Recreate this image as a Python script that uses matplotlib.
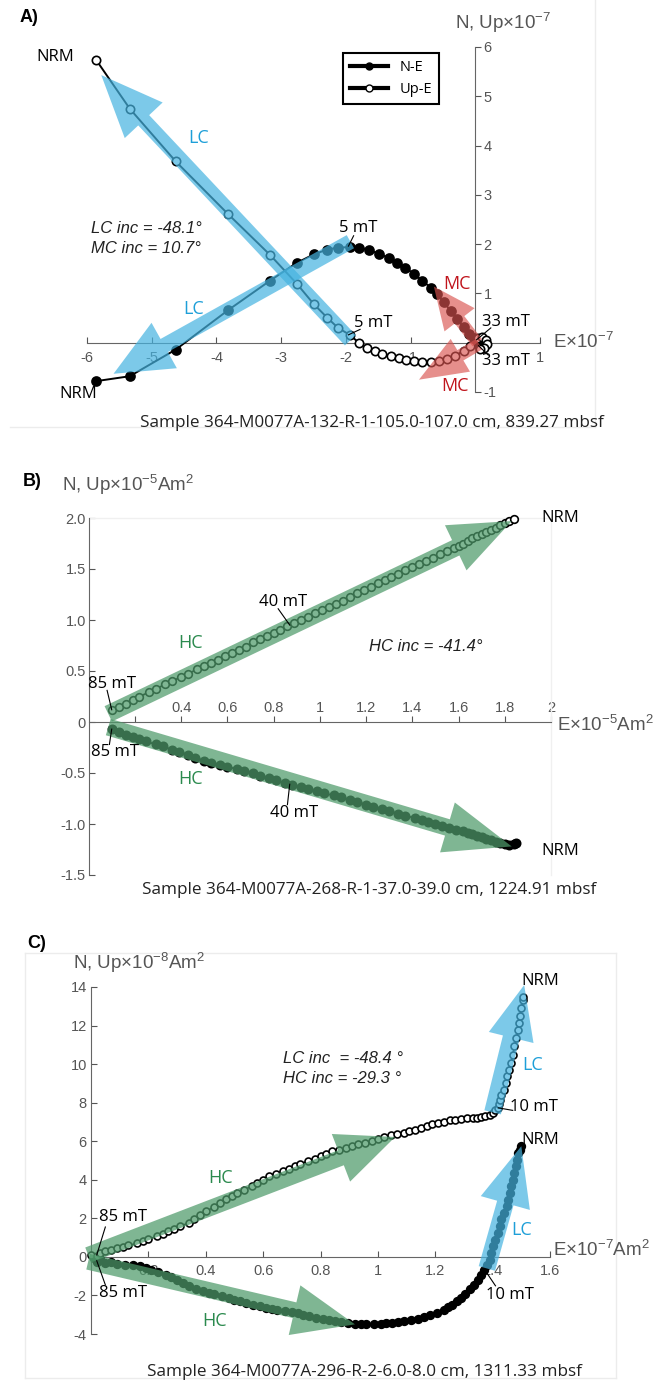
import numpy as np
import matplotlib
matplotlib.use("Agg")
from matplotlib import pyplot as plt
from matplotlib.patches import FancyArrowPatch, ArrowStyle
from matplotlib.lines import Line2D

plt.rcParams['font.family'] = ['Liberation Sans', 'DejaVu Sans']
plt.rcParams['mathtext.default'] = 'regular'
plt.rcParams['axes.unicode_minus'] = False

W, H = 662, 1381
ANN = ['Open Sans', 'DejaVu Sans']

# ---------------- panel A data (x1e-7) ----------------
a_ne_x = [-5.86, -5.34, -4.63, -3.82, -3.17, -2.76, -2.50, -2.29, -2.12, -1.94,
          -1.80, -1.65, -1.49, -1.34, -1.21, -1.08, -0.95, -0.82, -0.69, -0.59,
          -0.49, -0.38, -0.28, -0.18, -0.10, -0.02, 0.05, 0.12, 0.15, 0.10, 0.05]
a_ne_y = [-0.78, -0.68, -0.14, 0.66, 1.26, 1.62, 1.79, 1.89, 1.93, 1.94,
          1.93, 1.88, 1.81, 1.72, 1.62, 1.52, 1.40, 1.26, 1.12, 0.99,
          0.82, 0.65, 0.48, 0.31, 0.18, 0.09, 0.05, 0.02, -0.05, -0.10, -0.04]
a_up_x = [-5.86, -5.34, -4.63, -3.82, -3.17, -2.76, -2.50, -2.29, -2.12, -1.94,
          -1.80, -1.67, -1.55, -1.44, -1.31, -1.18, -1.07, -0.95, -0.82, -0.69,
          -0.56, -0.43, -0.31, -0.18, -0.08, 0.04, 0.10, 0.16, 0.18, 0.14, 0.07]
a_up_y = [5.74, 4.75, 3.68, 2.61, 1.78, 1.20, 0.79, 0.51, 0.30, 0.16,
          0.00, -0.10, -0.16, -0.22, -0.27, -0.31, -0.35, -0.38, -0.39, -0.40,
          -0.38, -0.33, -0.27, -0.16, -0.06, 0.10, 0.12, 0.06, -0.02, -0.10, -0.12]

# ---------------- panel B data (x1e-5 Am2) ----------------
b_up_x = [0.10, 0.13, 0.16, 0.19, 0.22, 0.26, 0.29, 0.33, 0.36, 0.40, 0.43, 0.47,
          0.50, 0.53, 0.56, 0.59, 0.62, 0.65, 0.68, 0.71, 0.74, 0.77, 0.80, 0.83,
          0.86, 0.89, 0.92, 0.95, 0.98, 1.01, 1.04, 1.07, 1.10, 1.13, 1.16, 1.19,
          1.22, 1.25, 1.28, 1.31, 1.34, 1.37, 1.40, 1.43, 1.46, 1.49, 1.52, 1.55,
          1.58, 1.60, 1.62, 1.64, 1.66, 1.68, 1.70, 1.72, 1.74, 1.76, 1.78, 1.80,
          1.82, 1.84]
b_up_y = [0.12, 0.15, 0.18, 0.22, 0.25, 0.29, 0.32, 0.37, 0.40, 0.44, 0.47, 0.52,
          0.55, 0.58, 0.61, 0.65, 0.68, 0.71, 0.74, 0.78, 0.81, 0.84, 0.87, 0.90,
          0.94, 0.97, 1.00, 1.03, 1.07, 1.10, 1.13, 1.16, 1.19, 1.23, 1.26, 1.29,
          1.32, 1.36, 1.39, 1.42, 1.45, 1.49, 1.52, 1.55, 1.58, 1.61, 1.65, 1.68,
          1.71, 1.73, 1.75, 1.77, 1.80, 1.82, 1.84, 1.86, 1.88, 1.90, 1.93, 1.95,
          1.97, 1.99]
b_ne_x = [0.10, 0.13, 0.16, 0.19, 0.22, 0.25, 0.29, 0.32, 0.36, 0.39, 0.43, 0.46,
          0.50, 0.53, 0.57, 0.60, 0.64, 0.67, 0.71, 0.74, 0.78, 0.81, 0.85, 0.88,
          0.92, 0.95, 0.99, 1.02, 1.06, 1.09, 1.13, 1.16, 1.20, 1.23, 1.27, 1.30,
          1.34, 1.37, 1.41, 1.44, 1.47, 1.50, 1.53, 1.56, 1.59, 1.62, 1.64, 1.66,
          1.68, 1.70, 1.72, 1.74, 1.76, 1.78, 1.80, 1.82, 1.84, 1.85]
b_ne_y = [-0.07, -0.10, -0.13, -0.15, -0.17, -0.19, -0.22, -0.24, -0.27, -0.29,
          -0.32, -0.35, -0.38, -0.40, -0.42, -0.44, -0.46, -0.48, -0.50, -0.53,
          -0.55, -0.57, -0.60, -0.62, -0.64, -0.66, -0.68, -0.70, -0.72, -0.74,
          -0.76, -0.78, -0.81, -0.83, -0.85, -0.87, -0.90, -0.92, -0.94, -0.96,
          -0.98, -1.00, -1.02, -1.04, -1.06, -1.07, -1.09, -1.10, -1.12, -1.13,
          -1.15, -1.16, -1.18, -1.19, -1.20, -1.21, -1.20, -1.19]

# ---------------- panel C data (x1e-7 / x1e-8 Am2) ----------------
c_up_x = [0.00, 0.02, 0.03, 0.05, 0.07, 0.09, 0.11, 0.13, 0.16, 0.18, 0.20, 0.23,
          0.25, 0.27, 0.29, 0.31, 0.34, 0.36, 0.38, 0.40, 0.43, 0.45, 0.47, 0.49,
          0.51, 0.535, 0.56, 0.58, 0.60, 0.62, 0.645, 0.67, 0.69, 0.71, 0.73, 0.755,
          0.78, 0.80, 0.82, 0.84, 0.865, 0.89, 0.91, 0.93, 0.955, 0.98, 1.00, 1.02,
          1.045, 1.065, 1.09, 1.11, 1.13, 1.15, 1.17, 1.19, 1.21, 1.23, 1.25, 1.27,
          1.29, 1.31, 1.33, 1.345, 1.36, 1.375, 1.39, 1.40, 1.41, 1.42, 1.423, 1.425,
          1.43, 1.44, 1.445, 1.45, 1.458, 1.465, 1.47, 1.476, 1.483, 1.49, 1.493,
          1.496, 1.50, 1.506, 1.507]
c_up_y = [0.10, 0.05, 0.18, 0.28, 0.36, 0.44, 0.52, 0.60, 0.70, 0.81, 0.92, 1.07,
          1.20, 1.33, 1.46, 1.59, 1.76, 1.94, 2.15, 2.37, 2.58, 2.80, 2.98, 3.15,
          3.32, 3.49, 3.66, 3.84, 4.01, 4.18, 4.31, 4.44, 4.57, 4.70, 4.83, 4.96,
          5.09, 5.22, 5.35, 5.48, 5.57, 5.65, 5.74, 5.83, 5.92, 6.00, 6.11, 6.22,
          6.30, 6.38, 6.43, 6.52, 6.60, 6.69, 6.78, 6.87, 6.95, 7.02, 7.08, 7.12,
          7.15, 7.18, 7.21, 7.23, 7.26, 7.31, 7.38, 7.47, 7.60, 7.73, 7.95, 8.16,
          8.42, 8.68, 9.02, 9.37, 9.71, 10.06, 10.49, 10.92, 11.35, 11.79, 12.13,
          12.48, 12.90, 13.34, 13.48]
c_ne_x = [0.01, 0.02, 0.03, 0.05, 0.07, 0.09, 0.12, 0.145, 0.17, 0.19, 0.21, 0.235,
          0.26, 0.28, 0.30, 0.32, 0.34, 0.365, 0.39, 0.41, 0.43, 0.455, 0.48, 0.50,
          0.52, 0.54, 0.565, 0.59, 0.61, 0.63, 0.65, 0.675, 0.70, 0.72, 0.74, 0.76,
          0.785, 0.81, 0.83, 0.85, 0.87, 0.895, 0.92, 0.94, 0.96, 0.985, 1.01, 1.03,
          1.05, 1.07, 1.09, 1.115, 1.14, 1.16, 1.18, 1.205, 1.23, 1.245, 1.26, 1.275,
          1.29, 1.305, 1.32, 1.335, 1.35, 1.36, 1.37, 1.38, 1.39, 1.395, 1.40, 1.41,
          1.42, 1.425, 1.43, 1.44, 1.45, 1.455, 1.46, 1.465, 1.47, 1.475, 1.48,
          1.485, 1.49, 1.495, 1.50]
c_ne_y = [-0.05, -0.25, -0.10, -0.30, -0.28, -0.35, -0.40, -0.42, -0.48, -0.56,
          -0.66, -0.79, -0.92, -1.05, -1.18, -1.35, -1.52, -1.65, -1.78, -1.87,
          -1.95, -2.04, -2.13, -2.22, -2.30, -2.38, -2.47, -2.56, -2.64, -2.68,
          -2.73, -2.80, -2.87, -2.93, -2.99, -3.08, -3.16, -3.22, -3.28, -3.34,
          -3.39, -3.43, -3.46, -3.47, -3.46, -3.47, -3.46, -3.44, -3.42, -3.38,
          -3.34, -3.28, -3.21, -3.13, -3.04, -2.89, -2.73, -2.60, -2.47, -2.30,
          -2.13, -1.91, -1.69, -1.44, -1.18, -0.92, -0.66, -0.40, -0.14, 0.20,
          0.55, 0.90, 1.24, 1.59, 1.94, 2.28, 2.63, 2.97, 3.32, 3.67, 4.01, 4.36,
          4.70, 5.05, 5.39, 5.57, 5.74]

BLUE, BLUE_T = '#45b3e0', '#1e9fd8'
RED, RED_T = '#d9534f', '#c0141c'
GREEN, GREEN_T = '#4e9a6a', '#2b8a4e'
GRAY = '#555555'


def axes_px(left, top, right, bottom):
    return fig.add_axes([left / W, 1 - bottom / H, (right - left) / W, (bottom - top) / H])


def band(ax, p0, p1, color, alpha, tail, head_w, head_l):
    s = 72 / 100
    style = ArrowStyle.Simple(head_length=head_l * s, head_width=head_w * s, tail_width=tail * s)
    arr = FancyArrowPatch(p0, p1, arrowstyle=style, mutation_scale=1, color=color, alpha=alpha,
                          lw=0, shrinkA=0, shrinkB=0, clip_on=False, zorder=6)
    ax.add_patch(arr)


def series(ax, x, y, filled, ms, lw):
    ax.plot(x, y, '-', color='k', lw=lw, marker='o', ms=ms, mfc='k' if filled else 'w',
            mec='k', mew=1.2, clip_on=False, zorder=4)


def leader(ax, p0, p1):
    ax.plot([p0[0], p1[0]], [p0[1], p1[1]], color='k', lw=0.8, clip_on=False, zorder=7)


def note(ax, x, y, s, color='k', size=12, ha='left', va='center', **kw):
    ax.text(x, y, s, color=color, fontsize=size, ha=ha, va=va, family=ANN, zorder=8, **kw)


def fig_line(x0, y0, x1, y1):
    fig.add_artist(Line2D([x0 / W, x1 / W], [1 - y0 / H, 1 - y1 / H], color='#ececec', lw=1))


fig = plt.figure(figsize=(W / 100, H / 100), dpi=100)

# ===================== A =====================
ax = axes_px(87, 47, 540, 392)
ax.set_xlim(-6, 1)
ax.set_ylim(-1, 6)
for sp in ['top', 'left']:
    ax.spines[sp].set_visible(False)
ax.spines['bottom'].set_position(('data', 0))
ax.spines['right'].set_position(('data', 0))
for sp in ['bottom', 'right']:
    ax.spines[sp].set_color('#666666')
ax.yaxis.tick_right()
ax.set_xticks([-6, -5, -4, -3, -2, -1, 1])
ax.set_yticks([-1, 1, 2, 3, 4, 5, 6])
ax.tick_params(axis='x', direction='in', length=4, pad=6, colors=GRAY, labelsize=10.5)
ax.tick_params(axis='y', direction='out', length=4, pad=2, colors=GRAY, labelsize=10.5)
ax.patch.set_alpha(0)

series(ax, a_ne_x, a_ne_y, True, 6.5, 1.4)
series(ax, a_up_x, a_up_y, False, 6, 1.4)
band(ax, (-1.93, 0.05), (-5.78, 5.43), BLUE, 0.7, 15, 52, 62)
band(ax, (-1.93, 2.05), (-5.59, -0.63), BLUE, 0.7, 15, 52, 58)
band(ax, (0.03, 0.0), (-0.64, 1.14), RED, 0.65, 12, 38, 42)
band(ax, (0.06, -0.03), (-0.87, -0.75), RED, 0.65, 12, 38, 48)

note(ax, -6.2, 5.8, 'NRM', ha='right')
note(ax, -6.14, -1.04, 'NRM', ha='center')
note(ax, -4.28, 4.15, 'LC', BLUE_T, 13, ha='center')
note(ax, -4.36, 0.69, 'LC', BLUE_T, 13, ha='center')
note(ax, -0.28, 1.2, 'MC', RED_T, 13, ha='center')
note(ax, -0.31, -0.87, 'MC', RED_T, 13, ha='center')
note(ax, -1.81, 2.32, '5 mT', ha='center')
leader(ax, (-1.96, 1.96), (-1.88, 2.17))
note(ax, -1.57, 0.41, '5 mT', ha='center')
leader(ax, (-1.96, 0.16), (-1.78, 0.27))
note(ax, 0.47, 0.43, '33 mT', ha='center')
leader(ax, (0.02, 0.06), (0.24, 0.3))
note(ax, 0.47, -0.37, '33 mT', ha='center')
leader(ax, (0.05, -0.06), (0.2, -0.25))
ax.text(-5.94, 2.31, 'LC inc = -48.1°', style='italic', fontsize=12, color='#222222', va='center')
ax.text(-5.94, 1.91, 'MC inc = 10.7°', style='italic', fontsize=12, color='#222222', va='center')

leg = ax.legend([Line2D([], [], color='k', lw=3, marker='o', ms=5, mfc='k', mec='k'),
                 Line2D([], [], color='k', lw=3, marker='o', ms=5, mfc='w', mec='k')],
                ['N-E', 'Up-E'], loc='upper left', bbox_to_anchor=(336 / W, 1 - 46 / H),
                bbox_transform=fig.transFigure, fancybox=False, edgecolor='k', framealpha=1,
                handlelength=2.6, borderpad=0.45, labelspacing=0.5,
                prop={'family': ANN, 'size': 10.5})
leg.get_frame().set_linewidth(1.5)

fig.text(503 / W, 1 - 23 / H, 'N, Up×10$^{-7}$', ha='center', va='center', fontsize=13.5, color=GRAY)
fig.text(553 / W, 1 - 342 / H, 'E×10$^{-7}$', ha='left', va='center', fontsize=13.5, color=GRAY)
fig.text(20 / W, 1 - 18 / H, 'A)', ha='left', va='center', fontsize=13, fontweight='bold')
fig.text(372 / W, 1 - 423 / H, 'Sample 364-M0077A-132-R-1-105.0-107.0 cm, 839.27 mbsf',
         ha='center', va='center', fontsize=12.3, family=ANN, color='#222222')
fig_line(595, 0, 595, 427)
fig_line(10, 427, 595, 427)

# ===================== B =====================
ax = axes_px(88.6, 518, 551, 875)
ax.set_xlim(0, 2)
ax.set_ylim(-1.5, 2.0)
ax.spines['bottom'].set_visible(False)
ax.spines['right'].set_visible(False)
ax.spines['top'].set_position(('data', 0))
for sp in ['top', 'left']:
    ax.spines[sp].set_color('#666666')
ax.xaxis.tick_top()
ax.set_xticks([0.2, 0.4, 0.6, 0.8, 1.0, 1.2, 1.4, 1.6, 1.8, 2.0])
ax.set_xticklabels(['', '0.4', '0.6', '0.8', '1', '1.2', '1.4', '1.6', '1.8', '2'])
ax.set_yticks([-1.5, -1.0, -0.5, 0, 0.5, 1.0, 1.5, 2.0])
ax.set_yticklabels(['-1.5', '-1.0', '-0.5', '0', '0.5', '1.0', '1.5', '2.0'])
ax.tick_params(axis='x', direction='out', length=4, pad=1, colors=GRAY, labelsize=10.5)
ax.tick_params(axis='y', direction='in', length=4, pad=2, colors=GRAY, labelsize=10.5)
ax.plot([0, 1, 1], [1, 1, 0], transform=ax.transAxes, color='#f0f0f0', lw=1, clip_on=False)

series(ax, b_ne_x, b_ne_y, True, 6, 1.3)
series(ax, b_up_x, b_up_y, False, 5.5, 1.3)
band(ax, (0.085, 0.08), (1.83, 1.97), GREEN, 0.72, 17, 50, 62)
band(ax, (0.085, -0.05), (1.83, -1.22), GREEN, 0.72, 17, 52, 67)

note(ax, 1.96, 2.0, 'NRM')
note(ax, 1.96, -1.26, 'NRM')
note(ax, 0.44, 0.77, 'HC', GREEN_T, 13, ha='center')
note(ax, 0.44, -0.56, 'HC', GREEN_T, 13, ha='center')
note(ax, 0.10, 0.37, '85 mT', ha='center')
leader(ax, (0.10, 0.12), (0.08, 0.31))
note(ax, 0.115, -0.29, '85 mT', ha='center')
leader(ax, (0.10, -0.07), (0.09, -0.22))
note(ax, 0.84, 1.18, '40 mT', ha='center')
leader(ax, (0.87, 0.95), (0.82, 1.11))
note(ax, 0.89, -0.89, '40 mT', ha='center')
leader(ax, (0.87, -0.61), (0.86, -0.81))
ax.text(1.46, 0.74, 'HC inc = -41.4°', style='italic', fontsize=12, color='#222222',
        ha='center', va='center')

fig.text(62 / W, 1 - 485 / H, 'N, Up×10$^{-5}$Am$^{2}$', ha='left', va='center', fontsize=13.5, color=GRAY)
fig.text(557 / W, 1 - 725 / H, 'E×10$^{-5}$Am$^{2}$', ha='left', va='center', fontsize=13.5, color=GRAY)
fig.text(23 / W, 1 - 482 / H, 'B)', ha='left', va='center', fontsize=13, fontweight='bold')
fig.text(369 / W, 1 - 890 / H, 'Sample 364-M0077A-268-R-1-37.0-39.0 cm, 1224.91 mbsf',
         ha='center', va='center', fontsize=12.3, family=ANN, color='#222222')

# ===================== C =====================
ax = axes_px(91, 987, 550, 1334)
ax.set_xlim(0, 1.6)
ax.set_ylim(-4, 14)
ax.spines['top'].set_visible(False)
ax.spines['right'].set_visible(False)
ax.spines['bottom'].set_position(('data', 0))
for sp in ['bottom', 'left']:
    ax.spines[sp].set_color('#666666')
ax.set_xticks([0.2, 0.4, 0.6, 0.8, 1.0, 1.2, 1.4, 1.6])
ax.set_xticklabels(['0.2', '0.4', '0.6', '0.8', '1', '1.2', '1.4', '1.6'])
ax.set_yticks([-4, -2, 0, 2, 4, 6, 8, 10, 12, 14])
ax.tick_params(axis='x', direction='in', length=4, pad=5, colors=GRAY, labelsize=10.5)
ax.tick_params(axis='y', direction='in', length=4, pad=3, colors=GRAY, labelsize=10.5)
ax.patch.set_alpha(0)

series(ax, c_ne_x, c_ne_y, True, 5.5, 1.1)
series(ax, c_up_x, c_up_y, False, 5, 1.1)
band(ax, (-0.01, 0.1), (1.06, 6.22), GREEN, 0.72, 16, 51, 58)
band(ax, (-0.01, -0.25), (0.92, -3.5), GREEN, 0.72, 16, 51, 62)
band(ax, (1.40, 7.5), (1.51, 14.1), BLUE, 0.7, 17, 46, 54)
band(ax, (1.38, -0.6), (1.50, 5.74), BLUE, 0.7, 17, 51, 59)

note(ax, 1.50, 14.3, 'NRM')
note(ax, 1.50, 6.05, 'NRM')
note(ax, 1.46, 7.75, '10 mT')
leader(ax, (1.42, 7.73), (1.47, 7.6))
note(ax, 1.46, -1.96, '10 mT', ha='center')
leader(ax, (1.37, -0.62), (1.41, -1.5))
note(ax, 0.11, 2.05, '85 mT', ha='center')
leader(ax, (0.02, 0.1), (0.05, 1.55))
note(ax, 0.11, -1.85, '85 mT', ha='center')
leader(ax, (0.02, -0.2), (0.05, -1.45))
note(ax, 0.45, 4.1, 'HC', GREEN_T, 13, ha='center')
note(ax, 0.43, -3.3, 'HC', GREEN_T, 13, ha='center')
note(ax, 1.54, 9.95, 'LC', BLUE_T, 13, ha='center')
note(ax, 1.50, 1.4, 'LC', BLUE_T, 13, ha='center')
ax.text(0.67, 10.3, 'LC inc  = -48.4 °', style='italic', fontsize=12, color='#222222', va='center')
ax.text(0.67, 9.25, 'HC inc = -29.3 °', style='italic', fontsize=12, color='#222222', va='center')

fig.text(73 / W, 1 - 963 / H, 'N, Up×10$^{-8}$Am$^{2}$', ha='left', va='center', fontsize=13.5, color=GRAY)
fig.text(553 / W, 1 - 1250 / H, 'E×10$^{-7}$Am$^{2}$', ha='left', va='center', fontsize=13.5, color=GRAY)
fig.text(27 / W, 1 - 943 / H, 'C)', ha='left', va='center', fontsize=13, fontweight='bold')
fig.text(364 / W, 1 - 1372 / H, 'Sample 364-M0077A-296-R-2-6.0-8.0 cm, 1311.33 mbsf',
         ha='center', va='center', fontsize=12.3, family=ANN, color='#222222')
fig_line(25, 953, 616, 953)
fig_line(616, 953, 616, 1378)
fig_line(25, 953, 25, 1378)
fig_line(25, 1378, 616, 1378)

fig.savefig('out.png', dpi=100)
